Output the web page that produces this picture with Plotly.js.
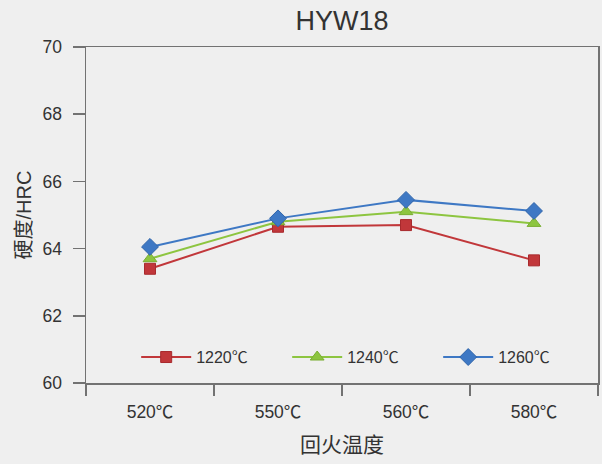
<!DOCTYPE html>
<html>
<head>
<meta charset="utf-8">
<script src="https://cdn.plot.ly/plotly-3.0.1.min.js"></script>
<style>html,body{margin:0;padding:0;background:#efefef;}#chart{width:602px;height:464px;}</style>
</head>
<body>
<div id="chart"></div>
<script>
const categories = ["520℃", "550℃", "560℃", "580℃"];
const seriesNames = ["1220℃", "1240℃", "1260℃"];
const values1220 = [63.4, 64.65, 64.7, 63.65];
const values1240 = [63.7, 64.8, 65.1, 64.75];
const values1260 = [64.05, 64.9, 65.45, 65.12];
const yTicks = [60, 62, 64, 66, 68, 70];

const FONT = "Liberation Sans, Arial, Noto Sans CJK SC, sans-serif";
const styles = [
  {color: "#c1373a", line: "#a82a2d", symbol: "square", size: 11},
  {color: "#8dc540", line: "#7aae33", symbol: "triangle-up", size: 12},
  {color: "#3e78c4", line: "#2f64aa", symbol: "diamond", size: 13}
];
const allValues = [values1220, values1240, values1260];

const traces = allValues.map((vals, i) => ({
  type: "scatter",
  mode: "lines+markers",
  name: seriesNames[i],
  x: categories,
  y: vals,
  line: {color: styles[i].color, width: 2},
  marker: {symbol: styles[i].symbol, size: styles[i].size, color: styles[i].color,
           line: {color: styles[i].line, width: 1}}
}));

const layout = {
  width: 602, height: 464,
  paper_bgcolor: "#efefef",
  plot_bgcolor: "#efefef",
  margin: {l: 86, r: 4, t: 47, b: 81},
  font: {family: FONT, color: "#333333", size: 17},
  title: {text: "HYW18", font: {size: 27, color: "#333333", family: FONT},
          x: 0.5, xref: "paper", y: 0.955, yanchor: "middle"},
  xaxis: {
    type: "category",
    categoryarray: categories,
    range: [-0.5, 3.5],
    showgrid: false, zeroline: false,
    showline: true, linecolor: "#727272", linewidth: 1.5, mirror: true,
    ticks: "outside", tickson: "boundaries", ticklen: 11, tickwidth: 1.5, tickcolor: "#727272",
    ticklabelstandoff: 12,
    tickfont: {size: 17.5, color: "#333333"},
    title: {text: "回火温度", font: {size: 21, color: "#333333"}, standoff: 17}
  },
  yaxis: {
    range: [60, 70],
    tickvals: yTicks,
    ticktext: yTicks.map(String),
    showgrid: false, zeroline: false,
    showline: true, linecolor: "#727272", linewidth: 1.5, mirror: true,
    ticks: "outside", ticklen: 12, tickwidth: 1.5, tickcolor: "#727272",
    ticklabelstandoff: 7,
    tickfont: {size: 17.5, color: "#333333"},
    title: {text: "硬度/HRC", font: {size: 20, color: "#333333"}, standoff: 5}
  },
  showlegend: true,
  legend: {
    orientation: "h",
    x: 0.098, xanchor: "left",
    y: 0.077, yanchor: "middle",
    bgcolor: "rgba(0,0,0,0)",
    font: {size: 16, color: "#333333"},
    itemwidth: 50,
    entrywidth: 86, entrywidthmode: "pixels"
  }
};

Plotly.newPlot("chart", traces, layout, {displayModeBar: false, staticPlot: true});
</script>
</body>
</html>
